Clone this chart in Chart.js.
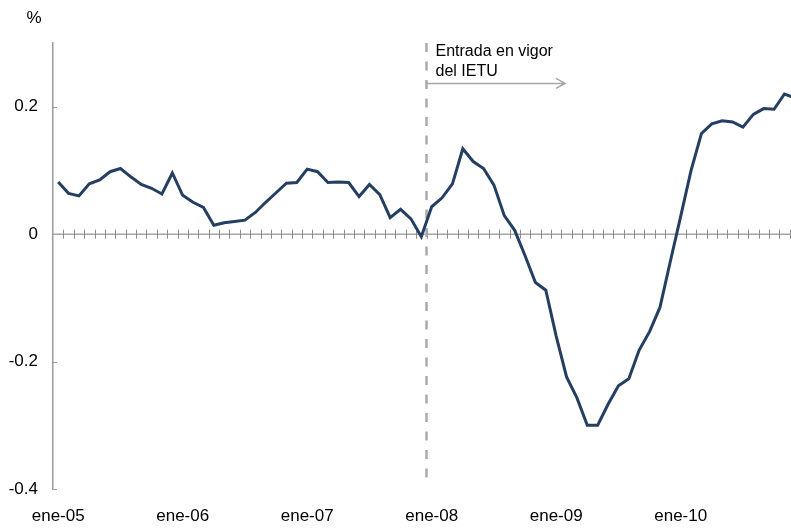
<!DOCTYPE html>
<html>
<head>
<meta charset="utf-8">
<script src="https://cdn.jsdelivr.net/npm/chart.js@4.4.1/dist/chart.umd.min.js"></script>
<style>
  html, body { margin: 0; padding: 0; background: #fff; overflow: hidden; }
  #wrap { position: relative; width: 791px; height: 529px; overflow: hidden; }
  canvas { display: block; }
</style>
</head>
<body>
<div id="wrap"><canvas id="chart" width="812" height="529"></canvas></div>
<script>
// categories: monthly, ene-05 .. dic-10
const months = ['ene', 'feb', 'mar', 'abr', 'may', 'jun', 'jul', 'ago', 'sep', 'oct', 'nov', 'dic'];
const years = ['05', '06', '07', '08', '09', '10'];
const categories = [];
years.forEach(y => months.forEach(m => categories.push(m + '-' + y)));

// series values (%)
const values = [
    0.082, 0.064, 0.060, 0.079, 0.085, 0.098, 0.103, 0.090, 0.078, 0.072, 0.063, 0.096,
    0.061, 0.050, 0.042, 0.014, 0.018, 0.020, 0.022, 0.034, 0.050, 0.065, 0.080, 0.081,
    0.102, 0.098, 0.081, 0.082, 0.081, 0.059, 0.078, 0.062, 0.026, 0.039, 0.024, -0.004,
    0.043, 0.057, 0.079, 0.134, 0.114, 0.103, 0.077, 0.029, 0.006, -0.034, -0.076, -0.088,
    -0.160, -0.224, -0.257, -0.300, -0.300, -0.267, -0.238, -0.227, -0.182, -0.153, -0.115, -0.043,
    0.028, 0.100, 0.158, 0.173, 0.178, 0.176, 0.168, 0.188, 0.197, 0.196, 0.220, 0.214
];

// y tick labels shown
const yTicks = [-0.4, -0.2, 0, 0.2];
const unitLabel = '%';
const noteLines = ['Entrada en vigor', 'del IETU'];
const noteCategory = 'ene-08';

const FONT = '"Liberation Sans", Arial, sans-serif';
const lineColor = '#243f62';
const grey = '#9a9a9a';

const decorPlugin = {
    id: 'decor',
    beforeDatasetsDraw(chart) {
        const ctx = chart.ctx;
        const xs = chart.scales.x, ys = chart.scales.y;
        const area = chart.chartArea;
        const catW = xs.getPixelForValue(1) - xs.getPixelForValue(0);
        const y0 = ys.getPixelForValue(0);
        ctx.save();

        // zero line with cross ticks at category boundaries
        ctx.strokeStyle = '#a6a6a6';
        ctx.lineWidth = 1.5;
        ctx.beginPath();
        ctx.moveTo(area.left, y0);
        ctx.lineTo(area.right, y0);
        ctx.stroke();
        ctx.lineWidth = 1;
        ctx.strokeStyle = '#8c8c8c';
        ctx.beginPath();
        for (let i = 1; i <= categories.length; i++) {
            const x = Math.round(xs.getPixelForValue(i) - catW / 2) + 0.5;
            ctx.moveTo(x, y0 - 4.5);
            ctx.lineTo(x, y0 + 4.5);
        }
        ctx.stroke();

        // inner y ticks
        ctx.strokeStyle = grey;
        ctx.beginPath();
        yTicks.forEach(v => {
            if (v === 0) return;
            const y = Math.round(ys.getPixelForValue(v)) + 0.5;
            ctx.moveTo(area.left, y);
            ctx.lineTo(area.left + 4, y);
        });
        ctx.stroke();

        // dashed vertical marker
        const xm = xs.getPixelForValue(categories.indexOf(noteCategory)) - catW / 2;
        ctx.strokeStyle = '#ababab';
        ctx.lineWidth = 2.5;
        ctx.setLineDash([9, 9.5]);
        ctx.beginPath();
        ctx.moveTo(xm, area.top);
        ctx.lineTo(xm, ys.getPixelForValue(-0.383));
        ctx.stroke();
        ctx.setLineDash([]);

        // arrow
        const ya = ys.getPixelForValue(0.2365);
        const xe = xs.getPixelForValue(49.35) - catW / 2;
        ctx.strokeStyle = '#a6a6a6';
        ctx.lineWidth = 1.5;
        ctx.beginPath();
        ctx.moveTo(xm, ya);
        ctx.lineTo(xe, ya);
        ctx.moveTo(xe - 9, ya - 5);
        ctx.lineTo(xe, ya);
        ctx.lineTo(xe - 9, ya + 5);
        ctx.stroke();

        // note text
        ctx.fillStyle = '#000';
        ctx.font = '16px ' + FONT;
        ctx.textAlign = 'left';
        ctx.textBaseline = 'alphabetic';
        ctx.fillText(noteLines[0], xm + 9, ys.getPixelForValue(0.2799));
        ctx.fillText(noteLines[1], xm + 9, ys.getPixelForValue(0.2485));

        // unit label
        ctx.font = '17px ' + FONT;
        ctx.textAlign = 'center';
        ctx.textBaseline = 'middle';
        ctx.fillText(unitLabel, 34, 18);
        ctx.restore();
    }
};

new Chart(document.getElementById('chart'), {
    type: 'line',
    data: {
        labels: categories,
        datasets: [{
            data: values,
            borderColor: lineColor,
            borderWidth: 3,
            pointRadius: 0,
            tension: 0,
            borderJoinStyle: 'miter',
            fill: false
        }]
    },
    options: {
        responsive: false,
        animation: false,
        layout: { padding: { top: 43, right: 12, left: 0, bottom: 0 } },
        plugins: { legend: { display: false }, tooltip: { enabled: false } },
        scales: {
            x: {
                type: 'category',
                offset: true,
                grid: { display: true, drawOnChartArea: false, drawTicks: false },
                border: { display: false },
                ticks: {
                    autoSkip: false,
                    maxRotation: 0,
                    minRotation: 0,
                    padding: 17,
                    color: '#000',
                    font: { family: FONT, size: 17 },
                    callback: function (v) {
                        const l = this.getLabelForValue(v);
                        return l.startsWith('ene') ? l : '';
                    }
                },
                afterFit(scale) { scale.height = 40; }
            },
            y: {
                min: -0.4,
                max: 0.3,
                grid: { display: true, drawOnChartArea: false, drawTicks: false },
                border: { display: true, color: grey, width: 1.5 },
                afterBuildTicks(scale) {
                    scale.ticks = yTicks.map(v => ({ value: v }));
                },
                ticks: {
                    padding: 15,
                    color: '#000',
                    font: { family: FONT, size: 17 },
                    callback: v => (v === 0 ? '0' : v.toFixed(1))
                },
                afterFit(scale) { scale.width = 53; }
            }
        }
    },
    plugins: [decorPlugin]
});
</script>
</body>
</html>
